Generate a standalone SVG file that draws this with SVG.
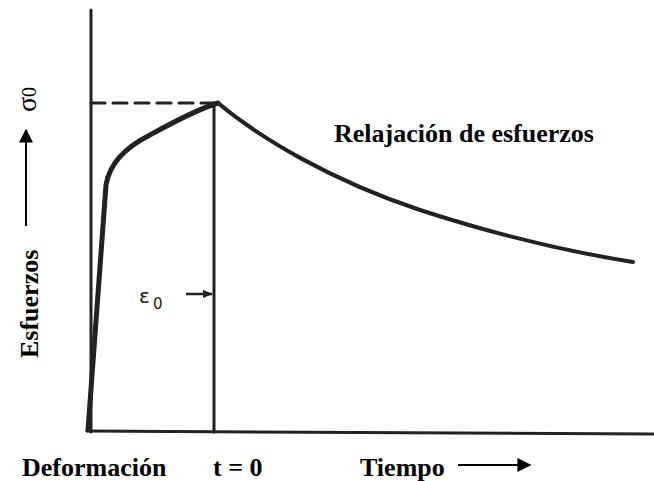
<svg xmlns="http://www.w3.org/2000/svg" width="654" height="481" viewBox="0 0 654 481">
<style>
.ln{fill:none;stroke:#222;stroke-linecap:round;stroke-linejoin:round}
.lbl{font-family:"Liberation Serif",serif;font-weight:bold;fill:#000;font-size:26px}
</style>
<defs>
<marker id="ah" viewBox="0 0 10 10" refX="9" refY="5" markerWidth="7" markerHeight="7" orient="auto" markerUnits="strokeWidth">
<path d="M0,0 L10,5 L0,10 z" fill="#000"/>
</marker>
<marker id="ah2" viewBox="0 0 10 10" refX="9" refY="5" markerWidth="4" markerHeight="4" orient="auto" markerUnits="strokeWidth">
<path d="M0,1 L10,5 L0,9 z" fill="#222"/>
</marker>
</defs>
<rect width="654" height="481" fill="#fff"/>
<g id="axes">
<path class="ln" d="M91,10 L91,432" stroke-width="3"/>
<path class="ln" d="M87,431 L654,434" stroke-width="3"/>
</g>
<g id="connectors">
<path class="ln" d="M91,103 L214,103" stroke-width="3" stroke-dasharray="14,8"/>
<path class="ln" d="M214,103 L214,432" stroke-width="3"/>
<path class="ln" d="M88,430 L106,185 C110,160 130,145 150,135 C170,124 195,110 218,103" stroke-width="5"/>
<path class="ln" d="M218,103 C260,138 330,180 420,210 C500,236 570,252 633,262" stroke-width="4"/>
<path d="M186,294 L212,294" stroke="#222" stroke-width="2.5" marker-end="url(#ah2)"/>
</g>
<g id="labels">
<text x="139" y="303" font-family="DejaVu Sans, sans-serif" font-size="20" fill="#222">ε</text>
<text x="153" y="309" font-family="DejaVu Sans, sans-serif" font-size="15" fill="#222">0</text>
<text class="lbl" x="334" y="142">Relajación de esfuerzos</text>
<text class="lbl" x="22" y="476">Deformación</text>
<text class="lbl" x="213" y="476">t = 0</text>
<text class="lbl" x="360" y="476">Tiempo</text>
<path d="M458,465 L530,465" stroke="#000" stroke-width="2" marker-end="url(#ah)"/>
<text class="lbl" transform="translate(38,358) rotate(-90)">Esfuerzos</text>
<path d="M26,226 L26,130" stroke="#000" stroke-width="2" marker-end="url(#ah)"/>
<text transform="translate(36,112) rotate(-90)" font-family="Liberation Serif, serif" font-size="28" fill="#000">σ<tspan font-size="20">0</tspan></text>
</g>
</svg>
